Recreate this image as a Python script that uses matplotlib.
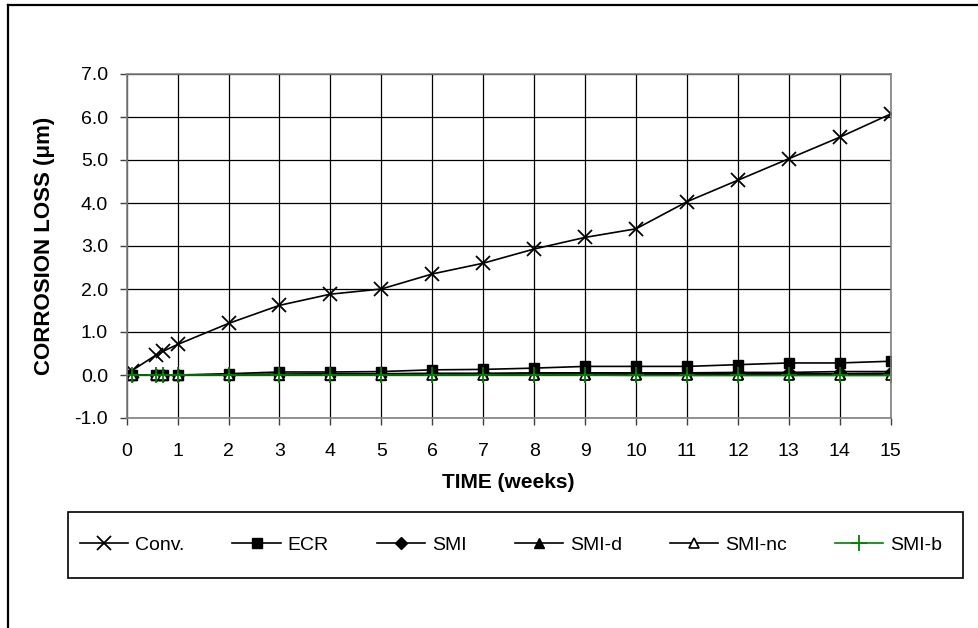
import matplotlib
matplotlib.use("Agg")
import matplotlib.pyplot as plt
from matplotlib.lines import Line2D
from matplotlib.patches import Rectangle
from matplotlib.ticker import FormatStrFormatter, MultipleLocator

plt.rcParams['font.family'] = ['Liberation Sans', 'DejaVu Sans']

# time in weeks
weeks = [0.1, 0.57, 0.71, 1, 2, 3, 4, 5, 6, 7, 8, 9, 10, 11, 12, 13, 14, 15]

# corrosion loss (um)
conv = [0.1, 0.46, 0.55, 0.71, 1.2, 1.62, 1.88, 2.0, 2.35, 2.6, 2.93, 3.2, 3.4, 4.03, 4.53, 5.03, 5.53, 6.07]
ecr = [0.0, 0.0, 0.0, 0.0, 0.03, 0.07, 0.07, 0.08, 0.12, 0.13, 0.16, 0.2, 0.2, 0.2, 0.24, 0.28, 0.28, 0.32]
smi = [0.0, 0.0, 0.0, 0.0, 0.01, 0.02, 0.03, 0.03, 0.04, 0.04, 0.05, 0.05, 0.05, 0.05, 0.06, 0.06, 0.08, 0.08]
smi_d = [0.0, 0.0, 0.0, 0.0, 0.0, 0.01, 0.01, 0.01, 0.02, 0.02, 0.02, 0.02, 0.02, 0.03, 0.03, 0.03, 0.03, 0.04]
smi_nc = [0.0, 0.0, 0.0, 0.0, 0.0, 0.0, 0.0, 0.0, 0.0, 0.01, 0.01, 0.01, 0.01, 0.01, 0.01, 0.01, 0.01, 0.01]
smi_b = [0.0, 0.0, 0.0, 0.0, 0.0, 0.0, 0.0, 0.0, 0.0, 0.0, 0.0, 0.0, -0.01, -0.01, -0.01, -0.01, -0.01, -0.01]

W, H = 979, 628
fig = plt.figure(figsize=(W / 100, H / 100), dpi=100)
ax = fig.add_axes([126.7 / W, 1 - 418 / H, (890.7 - 126.7) / W, (418 - 74) / H])

lw = 1.2
ax.plot(weeks, conv, color='black', lw=lw, marker='x', ms=10, mew=1.3, label='Conv.')
ax.plot(weeks, ecr, color='black', lw=lw, marker='s', ms=7, label='ECR')
ax.plot(weeks, smi, color='black', lw=lw, marker='D', ms=6, label='SMI')
ax.plot(weeks, smi_d, color='black', lw=lw, marker='^', ms=7, label='SMI-d')
ax.plot(weeks, smi_nc, color='black', lw=lw, marker='^', ms=7, mfc='white', mew=1.2, label='SMI-nc')
ax.plot(weeks, smi_b, color='#008000', lw=lw, marker='+', ms=11, mew=1.3, label='SMI-b')

ax.set_xlim(0, 15)
ax.set_ylim(-1, 7)
ax.xaxis.set_major_locator(MultipleLocator(1))
ax.yaxis.set_major_locator(MultipleLocator(1))
ax.yaxis.set_major_formatter(FormatStrFormatter('%.1f'))
ax.grid(True, color='black', lw=0.9)
ax.set_axisbelow(True)
for s in ax.spines.values():
    s.set_color('#808080')
    s.set_linewidth(1.2)
ax.tick_params(direction='out', length=5, width=1, color='#404040', labelsize=14)
ax.tick_params(axis='y', pad=8.5)
ax.tick_params(axis='x', pad=13)

ax.set_xlabel('TIME (weeks)', fontsize=15, fontweight='bold', labelpad=9)
ax.set_ylabel('CORROSION LOSS (\u03bcm)', fontsize=16, fontweight='bold', labelpad=14)

leg = fig.legend(loc='center', ncol=6, mode='expand',
                 bbox_to_anchor=(72 / W, 1 - 578 / H, (950 - 72) / W, 66 / H),
                 fontsize=14, handlelength=2.5, handletextpad=0.35,
                 frameon=False, borderaxespad=0)
fig.add_artist(Rectangle((68 / W, 1 - 578 / H), (963 - 68) / W, 66 / H,
                         transform=fig.transFigure, fill=False,
                         edgecolor='black', lw=1.2))

# outer chart frame (top and left edges visible)
fig.add_artist(Line2D([8 / W, 1], [1 - 5 / H, 1 - 5 / H], transform=fig.transFigure,
                      color='black', lw=1.6))
fig.add_artist(Line2D([8 / W, 8 / W], [1 - 5 / H, 0], transform=fig.transFigure,
                      color='black', lw=1.6))

fig.savefig('out.png', dpi=100)
